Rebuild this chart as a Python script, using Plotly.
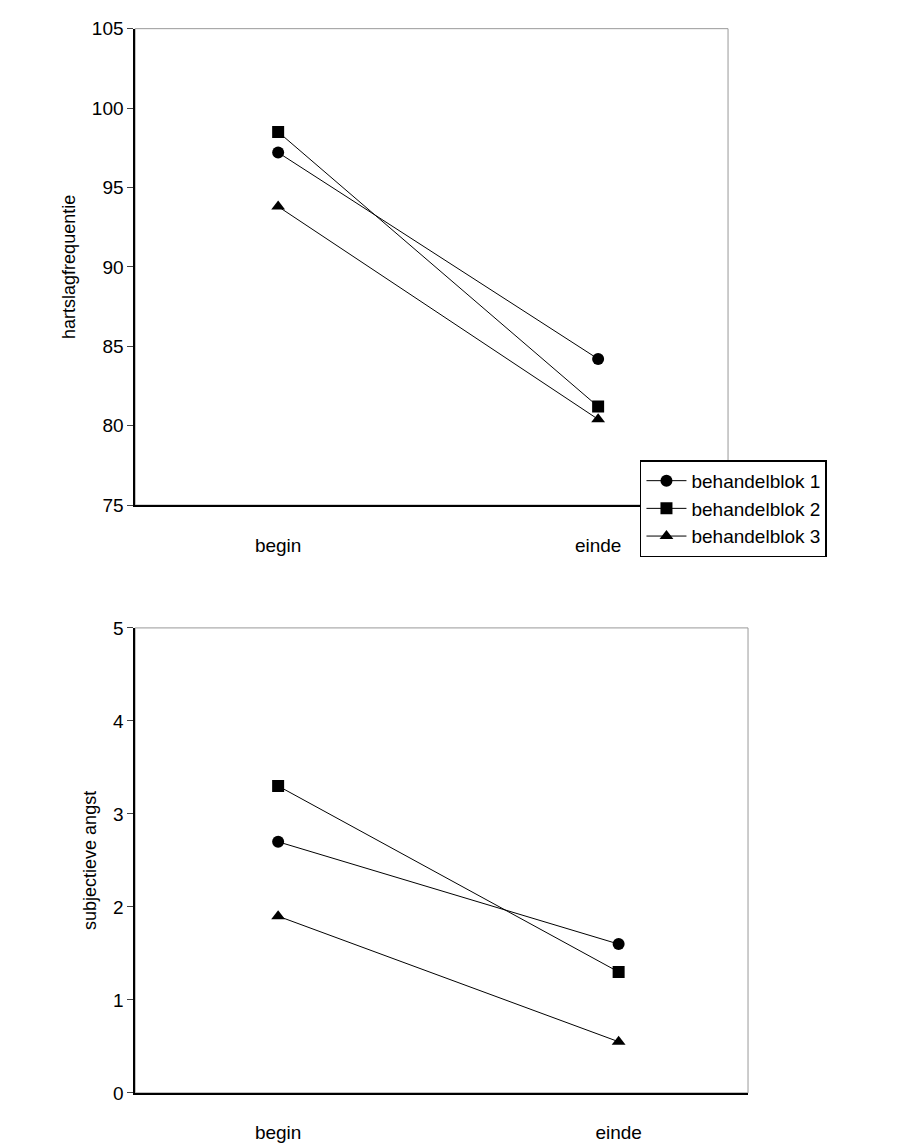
import plotly.graph_objects as go

categories = ["begin", "einde"]
series_names = ["behandelblok 1", "behandelblok 2", "behandelblok 3"]
symbols = ["circle", "square", "triangle-up"]
heart_rate = [[97.2, 84.2], [98.5, 81.2], [93.8, 80.4]]
anxiety = [[2.7, 1.6], [3.3, 1.3], [1.9, 0.55]]

xpos = [0, 1]
fig = go.Figure()
for name, sym, hr, ax in zip(series_names, symbols, heart_rate, anxiety):
    marker = dict(symbol=sym, size=12, color="black")
    line = dict(color="black", width=1)
    fig.add_trace(go.Scatter(x=xpos, y=hr, name=name, mode="lines+markers",
                             marker=marker, line=line, xaxis="x", yaxis="y"))
    fig.add_trace(go.Scatter(x=xpos, y=ax, name=name, mode="lines+markers",
                             marker=marker, line=line, xaxis="x2", yaxis="y2",
                             showlegend=False))

axis_font = dict(family="Liberation Sans, Arial", size=19, color="black")
common = dict(showgrid=False, zeroline=False, showline=True, linecolor="black",
              linewidth=1.5, tickfont=axis_font, automargin=False)

fig.update_layout(
    width=908, height=1148,
    margin=dict(l=0, r=0, t=0, b=0),
    paper_bgcolor="white", plot_bgcolor="white",
    font=axis_font,
    xaxis=dict(domain=[0.14, 0.793], range=[-0.447, 1.406], tickvals=xpos,
               ticktext=categories, ticks="", ticklabelstandoff=22, anchor="y", **common),
    yaxis=dict(domain=[0.567, 0.982], range=[75, 105], dtick=5, ticks="outside",
               ticklen=6, anchor="x",
               title=dict(text="hartslagfrequentie", font=dict(size=18), standoff=12), **common),
    xaxis2=dict(domain=[0.14, 0.815], range=[-0.42, 1.38], tickvals=xpos,
                ticktext=categories, ticks="", ticklabelstandoff=22, anchor="y2", **common),
    yaxis2=dict(domain=[0.055, 0.46], range=[0, 5], dtick=1, ticks="outside",
                ticklen=6, anchor="x2",
                title=dict(text="subjectieve angst", font=dict(size=18), standoff=12), **common),
    legend=dict(x=0.696, y=0.606, xanchor="left", yanchor="top",
                bordercolor="black", borderwidth=1.5, bgcolor="white",
                font=dict(family="Liberation Sans, Arial", size=19, color="black"),
                tracegroupgap=0, itemwidth=40),
    shapes=[
        dict(type="rect", xref="x domain", yref="y domain", x0=0, x1=1, y0=0, y1=1,
             line=dict(color="#999", width=1), layer="below"),
        dict(type="rect", xref="x2 domain", yref="y2 domain", x0=0, x1=1, y0=0, y1=1,
             line=dict(color="#999", width=1), layer="below"),
    ],
)

fig.write_html("out.html")
